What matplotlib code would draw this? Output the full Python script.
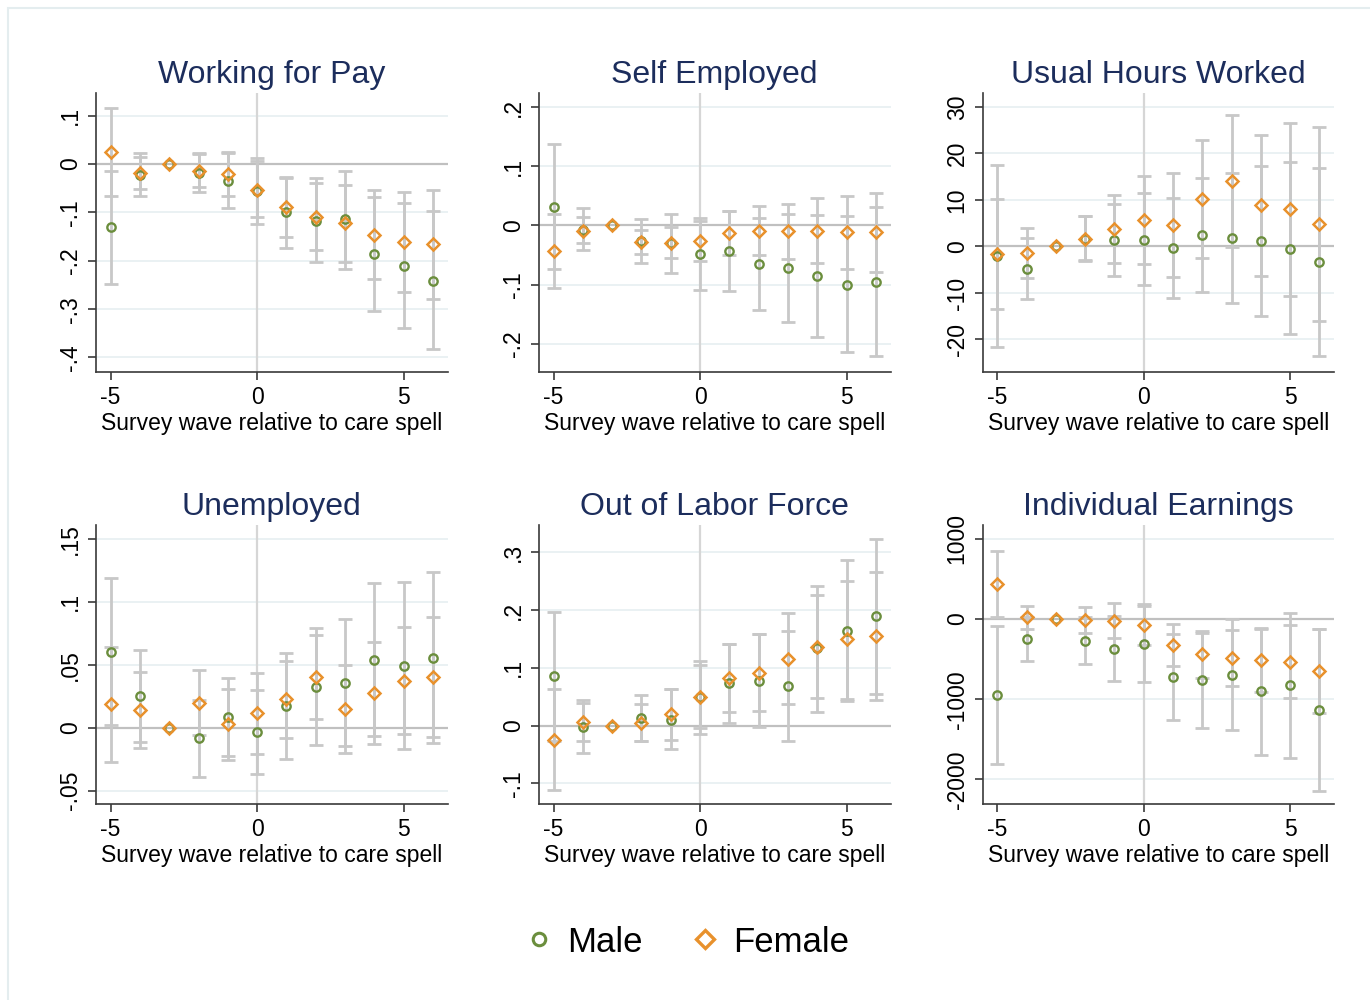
# %% import
import numpy as np
import matplotlib.pyplot as plt
from matplotlib.lines import Line2D
from matplotlib.patches import Rectangle

plt.rcParams["font.family"] = ["Liberation Sans", "DejaVu Sans"]
plt.rcParams["figure.dpi"] = 100
plt.rcParams["figure.facecolor"] = "white"

nan = np.nan

# %% event-study estimates, wave -3 is the omitted reference wave
wave = np.arange(-5, 7)

# working for pay
pay_m = [-0.131, -0.023, 0, -0.019, -0.034, -0.055, -0.100, -0.117, -0.114, -0.186, -0.210, -0.241]
pay_m_lo = [-0.248, -0.067, nan, -0.058, -0.091, -0.124, -0.174, -0.203, -0.217, -0.303, -0.340, -0.382]
pay_m_hi = [-0.015, 0.022, nan, 0.021, 0.022, 0.012, -0.026, -0.029, -0.014, -0.069, -0.081, -0.098]
pay_f = [0.025, -0.018, 0, -0.014, -0.021, -0.053, -0.089, -0.109, -0.122, -0.146, -0.162, -0.166]
pay_f_lo = [-0.065, -0.052, nan, -0.047, -0.067, -0.109, -0.150, -0.177, -0.203, -0.238, -0.264, -0.279]
pay_f_hi = [0.116, 0.014, nan, 0.023, 0.025, 0.007, -0.029, -0.040, -0.043, -0.054, -0.058, -0.053]

# self employed
self_m = [0.031, -0.007, 0, -0.026, -0.030, -0.048, -0.044, -0.065, -0.072, -0.085, -0.100, -0.096]
self_m_lo = [-0.074, -0.042, nan, -0.063, -0.081, -0.110, -0.111, -0.143, -0.163, -0.188, -0.215, -0.221]
self_m_hi = [0.138, 0.030, nan, 0.011, 0.020, 0.013, 0.024, 0.013, 0.019, 0.017, 0.016, 0.031]
self_f = [-0.043, -0.009, 0, -0.028, -0.029, -0.026, -0.013, -0.009, -0.010, -0.009, -0.012, -0.012]
self_f_lo = [-0.106, -0.030, nan, -0.048, -0.055, -0.060, -0.050, -0.050, -0.056, -0.063, -0.074, -0.078]
self_f_hi = [0.020, 0.014, nan, -0.007, -0.002, 0.007, 0.024, 0.033, 0.037, 0.046, 0.049, 0.054]

# usual hours worked
hours_m = [-2.1, -4.9, 0, 1.7, 1.4, 1.4, -0.4, 2.4, 1.9, 1.2, -0.5, -3.4]
hours_m_lo = [-21.7, -11.4, nan, -3.1, -6.3, -8.3, -11.1, -9.7, -12.1, -14.9, -18.8, -23.6]
hours_m_hi = [17.5, 1.9, nan, 6.6, 9.2, 11.4, 10.4, 14.7, 15.9, 17.4, 18.1, 16.9]
hours_f = [-1.6, -1.4, 0, 1.6, 3.7, 5.6, 4.6, 10.3, 14.0, 8.9, 8.0, 4.8]
hours_f_lo = [-13.4, -6.8, nan, -2.9, -3.6, -3.8, -6.5, -2.4, -0.1, -6.4, -10.6, -16.1]
hours_f_hi = [10.1, 4.0, nan, 6.6, 11.1, 15.1, 15.8, 23.0, 28.2, 24.0, 26.6, 25.6]

# unemployed
unemp_m = [0.0604, 0.0249, 0, -0.0086, 0.0086, -0.0037, 0.0168, 0.0321, 0.0358, 0.054, 0.0489, 0.0551]
unemp_m_lo = [0.0024, -0.0115, nan, -0.0393, -0.0225, -0.0372, -0.0249, -0.0136, -0.0147, -0.0064, -0.0168, -0.0126]
unemp_m_hi = [0.1187, 0.0615, nan, 0.0222, 0.0398, 0.0302, 0.0591, 0.0789, 0.0864, 0.1147, 0.116, 0.1233]
unemp_f = [0.0184, 0.0139, 0, 0.0198, 0.0027, 0.0115, 0.0225, 0.0404, 0.0147, 0.0273, 0.0372, 0.0401]
unemp_f_lo = [-0.0273, -0.016, nan, -0.0059, -0.0257, -0.0209, -0.0083, 0.0072, -0.0198, -0.0134, -0.0048, -0.0072]
unemp_f_hi = [0.0642, 0.0441, nan, 0.0455, 0.031, 0.0433, 0.0532, 0.0733, 0.0495, 0.0682, 0.0797, 0.088]

# out of labor force
olf_m = [0.085, -0.003, 0, 0.014, 0.010, 0.050, 0.073, 0.077, 0.068, 0.134, 0.164, 0.189]
olf_m_lo = [-0.027, -0.0465, nan, -0.026, -0.041, -0.014, 0.005, -0.003, -0.026, 0.024, 0.042, 0.055]
olf_m_hi = [0.197, 0.0395, nan, 0.0535, 0.064, 0.112, 0.141, 0.158, 0.164, 0.242, 0.286, 0.323]
olf_f = [-0.0256, 0.0058, 0, 0.0047, 0.0203, 0.050, 0.0826, 0.0919, 0.1157, 0.1355, 0.1494, 0.1547]
olf_f_lo = [-0.112, -0.027, nan, -0.027, -0.025, -0.004, 0.023, 0.026, 0.038, 0.047, 0.046, 0.044]
olf_f_hi = [0.063, 0.045, nan, 0.037, 0.064, 0.105, 0.142, 0.159, 0.194, 0.226, 0.251, 0.265]

# individual earnings
earn_m = [-948, -252, 0, -273, -369, -306, -725, -759, -692, -897, -826, -1136]
earn_m_lo = [-1811, -524, nan, -562, -772, -784, -1262, -1359, -1380, -1694, -1728, -2143]
earn_m_hi = [-80, 21, nan, 21, 38, 184, -189, -168, 0, -105, 75, -126]
earn_f = [436, 21, 0, -17, -25, -75, -323, -436, -482, -516, -533, -646]
earn_f_lo = [21, -122, nan, -172, -235, -318, -587, -729, -830, -915, -990, -1166]
earn_f_hi = [855, 168, nan, 147, 197, 168, -55, -143, -134, -117, -71, -126]

titles = ["Working for Pay", "Self Employed", "Usual Hours Worked",
          "Unemployed", "Out of Labor Force", "Individual Earnings"]
male = [(pay_m, pay_m_lo, pay_m_hi), (self_m, self_m_lo, self_m_hi),
        (hours_m, hours_m_lo, hours_m_hi), (unemp_m, unemp_m_lo, unemp_m_hi),
        (olf_m, olf_m_lo, olf_m_hi), (earn_m, earn_m_lo, earn_m_hi)]
female = [(pay_f, pay_f_lo, pay_f_hi), (self_f, self_f_lo, self_f_hi),
          (hours_f, hours_f_lo, hours_f_hi), (unemp_f, unemp_f_lo, unemp_f_hi),
          (olf_f, olf_f_lo, olf_f_hi), (earn_f, earn_f_lo, earn_f_hi)]
yticks = [[-0.4, -0.3, -0.2, -0.1, 0, 0.1],
          [-0.2, -0.1, 0, 0.1, 0.2],
          [-20, -10, 0, 10, 20, 30],
          [-0.05, 0, 0.05, 0.1, 0.15],
          [-0.1, 0, 0.1, 0.2, 0.3],
          [-2000, -1000, 0, 1000]]
ylims = [(-0.43, 0.147), (-0.248, 0.224), (-27, 33),
         (-0.0607, 0.161), (-0.1355, 0.347), (-2306, 1174)]

# %% styling
col_male = "#6b8e3d"
col_female = "#e8912c"
col_ci = "#c8c8c8"
col_title = "#1c2d5c"
col_axis = "#3a3a3a"
col_grid = "#e6eff1"


def stata_label(v):
    # .1 / -.05 style labels, no leading zero
    s = f"{v:g}"
    if s == "0":
        return s
    return s.replace("-0.", "-.").replace("0.", ".")


lefts = [0.0701, 0.3934, 0.7172]
bottoms = [0.628, 0.196]
width, height = 0.2566, 0.279

# %% plotting
fig = plt.figure(figsize=(13.7, 10))
fig.add_artist(Rectangle((8 / 1370, -0.1), 1.2, 1.092, transform=fig.transFigure,
                         fill=False, edgecolor="#e4edef", linewidth=1.5))

for i in range(6):
    ax = fig.add_axes([lefts[i % 3], bottoms[i // 3], width, height])

    ax.set_xlim(-5.5, 6.5)
    ax.set_ylim(*ylims[i])
    for t in yticks[i]:
        if t != 0:
            ax.axhline(t, color=col_grid, linewidth=1.2, zorder=0)
    ax.axhline(0, color="#c0c0c0", linewidth=1.6, zorder=1)
    ax.axvline(0, color="#d6d6d6", linewidth=1.6, zorder=1)

    for (pt, lo, hi) in (male[i], female[i]):
        pt, lo, hi = np.array(pt, float), np.array(lo, float), np.array(hi, float)
        ok = ~np.isnan(lo)
        ax.errorbar(wave[ok], pt[ok], yerr=[pt[ok] - lo[ok], hi[ok] - pt[ok]], fmt="none",
                    ecolor=col_ci, elinewidth=2, capsize=5, capthick=2, zorder=2)

    ax.plot(wave, male[i][0], "o", ms=6, mfc="none", mec=col_male, mew=1.7, zorder=3)
    ax.plot(wave, female[i][0], "D", ms=6.2, mfc="none", mec=col_female, mew=1.8, zorder=4)

    ax.set_xticks([-5, 0, 5])
    ax.set_xticklabels(["-5", "0", "5"])
    ax.set_yticks(yticks[i])
    ax.set_yticklabels([stata_label(t) for t in yticks[i]], rotation=90, va="center")
    ax.tick_params(length=6, width=1.2, color=col_axis, labelsize=16.5, pad=4)
    ax.set_xlabel("Survey wave relative to care spell", fontsize=16.5, labelpad=2)
    ax.set_title(titles[i], fontsize=23, color=col_title, pad=7)

    for side in ("top", "right"):
        ax.spines[side].set_visible(False)
    for side in ("left", "bottom"):
        ax.spines[side].set_color(col_axis)
        ax.spines[side].set_linewidth(1.2)

handles = [Line2D([], [], marker="o", ls="none", ms=9, mfc="none", mec=col_male, mew=2.2),
           Line2D([], [], marker="D", ls="none", ms=9.5, mfc="none", mec=col_female, mew=2.4)]
fig.legend(handles, ["Male", "Female"], loc="center", bbox_to_anchor=(0.5015, 0.058),
           ncol=2, frameon=False, fontsize=25, handlelength=0.8, handletextpad=0.4,
           columnspacing=1.4)

fig.savefig("out.png", dpi=100)
